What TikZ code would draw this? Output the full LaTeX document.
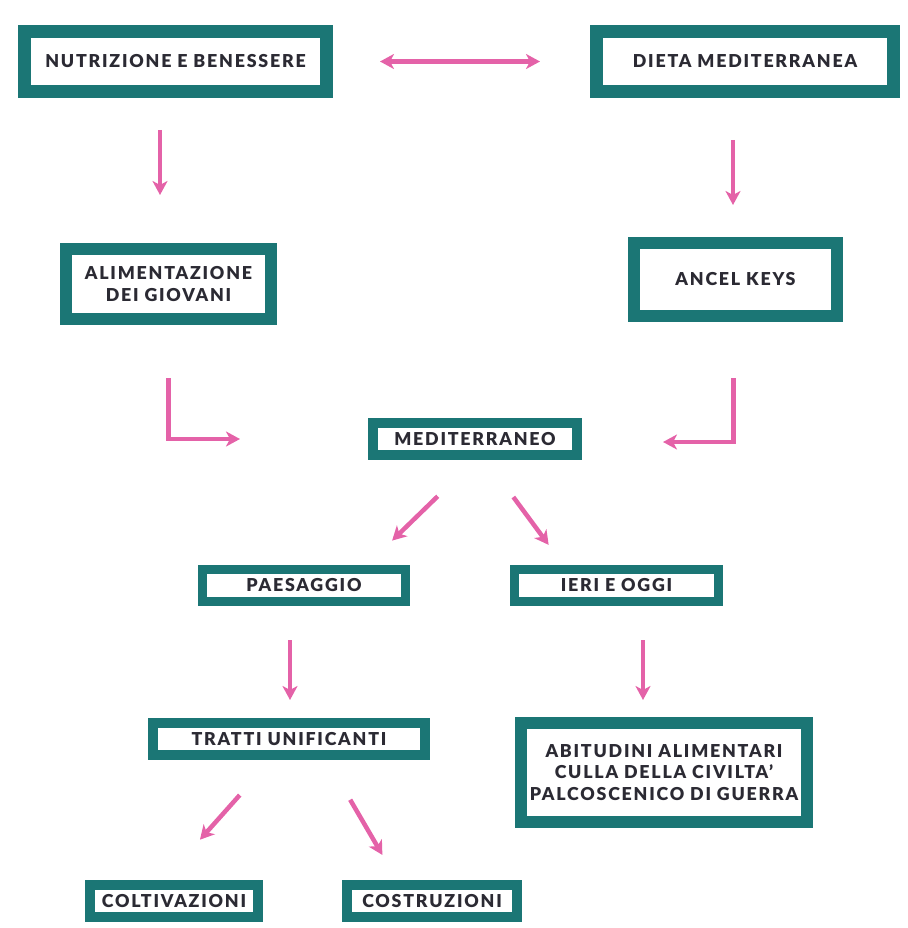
\documentclass[tikz,border=0pt]{standalone}
\usepackage{fontspec}
\setmainfont{Lato}[LetterSpace=10,BoldFont={Lato Black}]
\usetikzlibrary{arrows.meta}
\definecolor{frameteal}{HTML}{1B7675}
\definecolor{linkpink}{HTML}{E462A8}
\definecolor{ink}{HTML}{2B2A33}
\begin{document}
\begin{tikzpicture}[x=1pt,y=-1pt,>={Stealth[length=14pt,width=15pt,inset=4pt]},
  box/.style = {rectangle,draw=frameteal,fill=white,line width=#1,align=center,inner sep=0pt,text=ink,font=\bfseries\fontsize{17.8}{21.5}\selectfont},
  box/.default = 10pt,
  link/.style = {draw=linkpink,line width=4.5pt,->}]
\useasboundingbox (0,0) rectangle (907,928);
% boxes
\node[box=13pt,minimum width=302pt,minimum height=60pt] (nutr) at (175.5,61.5) {NUTRIZIONE E BENESSERE};
\node[box=13pt,minimum width=297pt,minimum height=60pt] (dieta) at (745,61.5) {DIETA MEDITERRANEA};
\node[box=12pt,minimum width=205pt,minimum height=70pt] (alim) at (168.5,284) {ALIMENTAZIONE\\DEI GIOVANI};
\node[box=12pt,minimum width=203pt,minimum height=73pt] (ancel) at (735.5,279.5) {ANCEL KEYS};
\node[box=10pt,minimum width=204pt,minimum height=32pt] (medit) at (475,439) {MEDITERRANEO};
\node[box=9pt,minimum width=203pt,minimum height=32pt] (paes) at (304,585.5) {PAESAGGIO};
\node[box=9pt,minimum width=204pt,minimum height=32pt] (ieri) at (616.5,585.5) {IERI E OGGI};
\node[box=10pt,minimum width=272pt,minimum height=32pt] (tratti) at (289,739) {TRATTI UNIFICANTI};
\node[box=12pt,minimum width=286pt,minimum height=99pt] (abit) at (664,772.5) {ABITUDINI ALIMENTARI\\CULLA DELLA CIVILTA'\\PALCOSCENICO DI GUERRA};
\node[box=10pt,minimum width=168pt,minimum height=32pt] (colt) at (174,901) {COLTIVAZIONI};
\node[box=10pt,minimum width=170pt,minimum height=32pt] (costr) at (432,901) {COSTRUZIONI};
% arrows
\draw[link,<->,shorten <=47pt,shorten >=50pt] (nutr.east) -- (dieta.west);
\draw[link,shorten <=32pt,shorten >=48pt] ([xshift=-15.5pt]nutr.south) -- ([xshift=-8.5pt]alim.north);
\draw[link,shorten <=42pt,shorten >=32pt] ([xshift=-12pt]dieta.south) -- ([xshift=-2.5pt]ancel.north);
\draw[link,shorten <=53pt,shorten >=128pt] (alim.south) |- (medit.west);
\draw[link,shorten <=56pt,shorten >=81pt] ([xshift=-2pt]ancel.south) |- ([yshift=-3pt]medit.east);
\draw[link,shorten <=52pt,shorten >=35pt] (medit.south) -- ([xshift=63pt]paes.north);
\draw[link,shorten <=46pt,shorten >=25pt] ([xshift=11pt]medit.south) -- ([xshift=-53pt]ieri.north);
\draw[link,shorten <=34pt,shorten >=18pt] ([xshift=-14pt]paes.south) -- ([xshift=1pt]tratti.north);
\draw[link,shorten <=34pt,shorten >=17pt] ([xshift=26.5pt]ieri.south) -- ([xshift=-21pt]abit.north);
\draw[link,shorten <=47pt,shorten >=54pt] ([xshift=-18pt]tratti.south) -- ([xshift=-10pt]colt.north);
\draw[link,shorten <=46pt,shorten >=29pt] ([xshift=38pt]tratti.south) -- ([xshift=-35pt]costr.north);
\end{tikzpicture}
\end{document}
